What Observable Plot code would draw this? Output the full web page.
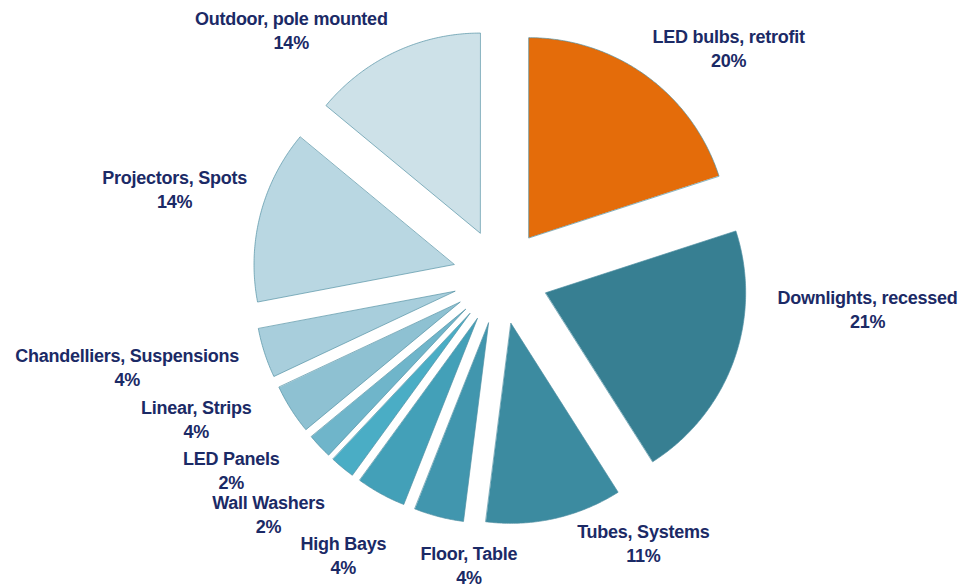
<!DOCTYPE html>
<html>
<head>
<meta charset="utf-8">
<script src="https://cdn.jsdelivr.net/npm/d3@7"></script>
<script src="https://cdn.jsdelivr.net/npm/@observablehq/plot@0.6"></script>
<style>
  html, body { margin: 0; padding: 0; background: #ffffff; }
  #chart { width: 963px; height: 587px; }
</style>
</head>
<body>
<div id="chart"></div>
<script>
// ---- data ----
const categories = [
  "LED bulbs, retrofit",
  "Downlights, recessed",
  "Tubes, Systems",
  "Floor, Table",
  "High Bays",
  "Wall Washers",
  "LED Panels",
  "Linear, Strips",
  "Chandelliers, Suspensions",
  "Projectors, Spots",
  "Outdoor, pole mounted"
];
const shares = [20, 21, 11, 4, 4, 2, 2, 4, 4, 14, 14];

// ---- styling / layout (not data) ----
const palette = [
  "#E46C0A", "#377F92", "#3C8BA0", "#4196AE", "#43A0B8", "#4AADC5",
  "#6FB5CA", "#8EC1D2", "#A8CEDC", "#B9D7E2", "#CDE1E8"
];
const W = 963, H = 587;
const PX = 200;              // pixels per unit radius
const CX = 500, CY = 276;    // pie centre in pixels
const explode = 0.24;        // slice explosion, in radii
const labelDist = 1.6;       // base label distance, in radii
// manual label nudges in pixels (like dragging Excel labels)
const labelNudge = {
  "Outdoor, pole mounted": [-73, 42],
  "LED bulbs, retrofit": [40, 30],
  "Downlights, recessed": [66, -77],
  "Tubes, Systems": [73, -46],
  "Floor, Table": [48, -22],
  "High Bays": [-3, -3],
  "Wall Washers": [-28, -10],
  "LED Panels": [-36, -26],
  "Linear, Strips": [-34, -30],
  "Chandelliers, Suspensions": [-69, -9],
  "Projectors, Spots": [-16, -9]
};

const data = categories.map((name, i) => ({name, value: shares[i]}));
const arcs = d3.pie().sort(null).value(d => d.value).startAngle(0).endAngle(2 * Math.PI)(data);

// polygon vertices for each exploded slice (unit-radius data space, y up)
const slicePts = [];
for (const a of arcs) {
  const mid = (a.startAngle + a.endAngle) / 2;
  const ox = explode * Math.sin(mid), oy = explode * Math.cos(mid);
  slicePts.push({name: a.data.name, x: ox, y: oy});
  const n = Math.max(8, Math.ceil((a.endAngle - a.startAngle) / (Math.PI / 360)));
  for (let k = 0; k <= n; k++) {
    const t = a.startAngle + (a.endAngle - a.startAngle) * k / n;
    slicePts.push({name: a.data.name, x: ox + Math.sin(t), y: oy + Math.cos(t)});
  }
}

const labels = arcs.map(a => {
  const mid = (a.startAngle + a.endAngle) / 2;
  const nd = labelNudge[a.data.name] || [0, 0];
  return {
    name: a.data.name,
    text: `${a.data.name}\n${a.data.value}%`,
    x: labelDist * Math.sin(mid) + nd[0] / PX,
    y: labelDist * Math.cos(mid) - nd[1] / PX
  };
});

const chart = Plot.plot({
  width: W,
  height: H,
  margin: 0,
  x: {domain: [-CX / PX, (W - CX) / PX], axis: null},
  y: {domain: [-(H - CY) / PX, CY / PX], axis: null},
  color: {domain: categories, range: palette},
  style: {background: "#ffffff"},
  marks: [
    Plot.line(slicePts, {
      x: "x", y: "y", z: "name", fill: "name",
      stroke: "#4f8fa1", strokeWidth: 0.8, strokeOpacity: 0.85,
      curve: "linear-closed"
    }),
    Plot.text(labels, {
      x: "x", y: "y", text: "text",
      fill: "#1B2A66",
      fontSize: 18,
      fontWeight: "bold",
      fontFamily: "'Liberation Sans', Arial, sans-serif",
      lineHeight: 1.33,
      textAnchor: "middle",
      lineAnchor: "middle"
    })
  ]
});
chart.style.letterSpacing = "-0.25px";
document.getElementById("chart").appendChild(chart);
</script>
</body>
</html>
